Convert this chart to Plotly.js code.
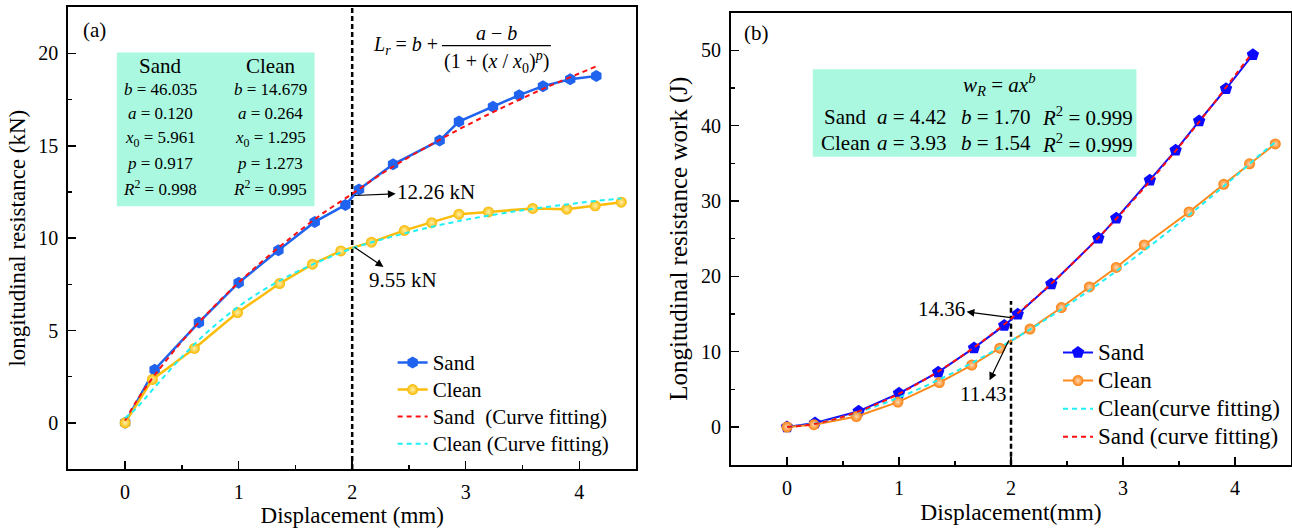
<!DOCTYPE html>
<html>
<head>
<meta charset="utf-8">
<script src="https://cdn.plot.ly/plotly-3.0.1.min.js"></script>
<style>html,body{margin:0;padding:0;background:#fff;}#chart{width:1292px;height:528px;}</style>
</head>
<body>
<div id="chart"></div>
<script>
// ---------- Panel (a): longitudinal resistance ----------
const xSandA = [0, 0.26, 0.65, 1.0, 1.35, 1.67, 1.94, 2.06, 2.36, 2.77, 2.94, 3.24, 3.47, 3.68, 3.92, 4.15];
const ySandA = [0, 2.88, 5.44, 7.59, 9.34, 10.88, 11.80, 12.64, 14.0, 15.29, 16.31, 17.12, 17.74, 18.23, 18.6, 18.78];
const xCleanA = [0, 0.24, 0.61, 0.99, 1.36, 1.65, 1.9, 2.17, 2.46, 2.70, 2.94, 3.2, 3.59, 3.89, 4.14, 4.37];
const yCleanA = [0, 2.35, 4.03, 5.97, 7.54, 8.59, 9.31, 9.78, 10.42, 10.84, 11.3, 11.42, 11.61, 11.57, 11.75, 11.95];
const xSandFitA = [0, 0.1, 0.25, 0.5, 0.75, 1, 1.25, 1.5, 1.75, 2, 2.25, 2.5, 2.75, 3, 3.25, 3.5, 3.75, 4, 4.15];
const ySandFitA = [0.12, 1.18, 2.50, 4.41, 6.09, 7.60, 8.97, 10.22, 11.38, 12.40, 13.45, 14.39, 15.26, 16.08, 16.85, 17.58, 18.27, 18.92, 19.30];
const xCleanFitA = [0, 0.1, 0.25, 0.5, 0.75, 1, 1.25, 1.5, 1.75, 2, 2.25, 2.5, 2.75, 3, 3.25, 3.5, 3.75, 4, 4.25, 4.37];
const yCleanFitA = [0.26, 0.80, 1.85, 3.57, 5.06, 6.30, 7.31, 8.14, 8.84, 9.45, 9.91, 10.32, 10.68, 11.00, 11.27, 11.51, 11.72, 11.91, 12.08, 12.15];

// ---------- Panel (b): longitudinal resistance work ----------
const xSandB = [0, 0.25, 0.64, 1.0, 1.35, 1.67, 1.94, 2.06, 2.36, 2.78, 2.94, 3.24, 3.47, 3.68, 3.92, 4.16];
const ySandB = [0, 0.54, 2.1, 4.47, 7.28, 10.5, 13.49, 14.97, 18.99, 25.07, 27.7, 32.75, 36.73, 40.62, 44.9, 49.42];
const xCleanB = [0, 0.24, 0.62, 0.99, 1.36, 1.65, 1.9, 2.17, 2.45, 2.70, 2.94, 3.19, 3.59, 3.9, 4.13, 4.36];
const yCleanB = [0, 0.31, 1.39, 3.31, 5.9, 8.22, 10.46, 13.0, 15.86, 18.59, 21.18, 24.17, 28.55, 32.22, 34.94, 37.58];
const xSandFitB = [0, 0.25, 0.5, 0.75, 1, 1.25, 1.5, 1.75, 2, 2.25, 2.5, 2.75, 3, 3.25, 3.5, 3.75, 4, 4.15];
const ySandFitB = [0, 0.42, 1.36, 2.71, 4.42, 6.46, 8.81, 11.44, 14.36, 17.54, 20.99, 24.68, 28.61, 32.78, 37.19, 41.81, 46.66, 49.6];
const xCleanFitB = [0, 0.25, 0.5, 0.75, 1, 1.25, 1.5, 1.75, 2, 2.25, 2.5, 2.75, 3, 3.25, 3.5, 3.75, 4, 4.25, 4.36];
const yCleanFitB = [0, 0.46, 1.35, 2.52, 3.93, 5.54, 7.34, 9.30, 11.43, 13.70, 16.12, 18.66, 21.34, 24.14, 27.05, 30.09, 33.23, 36.48, 37.8];

// ---------- labels ----------
const legendNamesA = ['Sand', 'Clean', 'Sand  (Curve fitting)', 'Clean (Curve fitting)'];
const legendNamesB = ['Sand', 'Clean', 'Clean(curve fitting)', 'Sand (curve fitting)'];
const paramHeadA = ['Sand', 'Clean'];
const paramSandA = ['<i>b</i> = 46.035', '<i>a</i> = 0.120', '<i>x</i><sub>0</sub> = 5.961', '<i>p</i> = 0.917', '<i>R</i><sup>2</sup> = 0.998'];
const paramCleanA = ['<i>b</i> = 14.679', '<i>a</i> = 0.264', '<i>x</i><sub>0</sub> = 1.295', '<i>p</i> = 1.273', '<i>R</i><sup>2</sup> = 0.995'];
const paramRowsB = [
  ['Sand', '<i>a</i> = 4.42', '<i>b</i> = 1.70', '<i>R</i><sup>2</sup> = 0.999'],
  ['Clean', '<i>a</i> = 3.93', '<i>b</i> = 1.54', '<i>R</i><sup>2</sup> = 0.999']
];
const markedX = 2;
const markedA = ['12.26 kN', '9.55 kN'];
const markedB = ['14.36', '11.43'];

const FONT = 'Liberation Serif, Times New Roman, serif';
function big(name, px) { return '<span style="font-size:' + px + 'px">' + name + '</span>'; }

const traces = [
  {x: xSandA, y: ySandA, name: big(legendNamesA[0], 21), mode: 'lines+markers', xaxis: 'x', yaxis: 'y', legend: 'legend',
   line: {color: '#1f63ee', width: 2.5}, marker: {symbol: 'hexagon', size: 12, color: '#1f63ee'}},
  {x: xCleanA, y: yCleanA, name: big(legendNamesA[1], 21), mode: 'lines+markers', xaxis: 'x', yaxis: 'y', legend: 'legend',
   line: {color: '#fdbd0a', width: 2.5}, marker: {symbol: 'circle', size: 11, color: '#f8b800', gradient: {type: 'radial', color: '#fff1a8'}}},
  {x: xSandFitA, y: ySandFitA, name: big(legendNamesA[2], 21), mode: 'lines', xaxis: 'x', yaxis: 'y', legend: 'legend',
   line: {color: '#ff1010', width: 2, dash: '5px,4px', shape: 'spline'}},
  {x: xCleanFitA, y: yCleanFitA, name: big(legendNamesA[3], 21), mode: 'lines', xaxis: 'x', yaxis: 'y', legend: 'legend',
   line: {color: '#1ff0f5', width: 2, dash: '5px,4px', shape: 'spline'}},

  {x: xSandB, y: ySandB, name: big(legendNamesB[0], 23), mode: 'lines+markers', xaxis: 'x2', yaxis: 'y2', legend: 'legend2',
   line: {color: '#1010ff', width: 2}, marker: {symbol: 'pentagon', size: 13, color: '#0a0aff'}},
  {x: xCleanB, y: yCleanB, name: big(legendNamesB[1], 23), mode: 'lines+markers', xaxis: 'x2', yaxis: 'y2', legend: 'legend2',
   line: {color: '#ff8a1c', width: 2}, marker: {symbol: 'circle', size: 11, color: '#fb7e0c', gradient: {type: 'radial', color: '#ffd8b0'}}},
  {x: xCleanFitB, y: yCleanFitB, name: big(legendNamesB[2], 23), mode: 'lines', xaxis: 'x2', yaxis: 'y2', legend: 'legend2',
   line: {color: '#1ff0f5', width: 2, dash: '5px,4px', shape: 'spline'}},
  {x: xSandFitB, y: ySandFitB, name: big(legendNamesB[3], 23), mode: 'lines', xaxis: 'x2', yaxis: 'y2', legend: 'legend2',
   line: {color: '#ff1010', width: 2, dash: '5px,4px', shape: 'spline'}}
];

function axisBase(extra) {
  return Object.assign({
    showline: true, linewidth: 2, linecolor: 'black', mirror: true,
    showgrid: false, zeroline: false,
    ticks: 'inside', ticklen: 8, tickwidth: 1.5, tickcolor: 'black',
    ticklabelstandoff: 4,
    tickfont: {family: FONT, size: 20, color: 'black'},
    automargin: false
  }, extra);
}

const ann = [];
function txt(xr, yr, x, y, text, size, extra) {
  ann.push(Object.assign({xref: xr, yref: yr, x: x, y: y, text: text, showarrow: false,
    font: {family: FONT, size: size, color: 'black'}}, extra || {}));
}
// panel labels
txt('x', 'y', -0.27, 21.25, '(a)', 21);
txt('x2', 'y2', -0.27, 52.3, '(b)', 21);
// (a) param box
const rowYA = [18.03, 16.74, 15.39, 14.04, 12.69];
txt('x', 'y', 0.31, 19.34, paramHeadA[0], 21);
txt('x', 'y', 1.28, 19.34, paramHeadA[1], 21);
paramSandA.forEach((t, i) => txt('x', 'y', 0.31, rowYA[i], t, 17));
paramCleanA.forEach((t, i) => txt('x', 'y', 1.28, rowYA[i], t, 17));
// (a) formula
txt('x', 'y', 2.77, 20.45, '<i>L</i><sub><i>r</i></sub> = <i>b</i> +', 20, {xanchor: 'right'});
txt('x', 'y', 3.27, 21.12, '<i>a</i> − <i>b</i>', 20);
txt('x', 'y', 3.27, 19.55, '(1 + (<i>x</i> / <i>x</i><sub>0</sub>)<sup><i>p</i></sup>)', 20);
// (b) box
txt('x2', 'y2', 1.90, 45.4, '<i>w</i><sub><i>R</i></sub> = <i>ax</i><sup><i>b</i></sup>', 21);
const colXB = [0.52, 1.12, 1.87, 2.68];
const rowYB = [41.2, 37.65];
paramRowsB.forEach((row, r) => row.forEach((t, c) => txt('x2', 'y2', colXB[c], rowYB[r], t, 21)));

// arrows with values
function arrow(xr, yr, px, py, tx, ty, text, size) {
  ann.push({xref: xr, yref: yr, axref: xr, ayref: yr, x: px, y: py, ax: tx, ay: ty, text: text,
    showarrow: true, arrowside: 'start', arrowhead: 2, startarrowhead: 2, arrowsize: 1.3, startarrowsize: 1.3,
    arrowwidth: 1.2, arrowcolor: 'black', standoff: 0, startstandoff: 0,
    font: {family: FONT, size: size, color: 'black'}});
}
arrow('x', 'y', 2.02, 12.31, 2.74, 12.49, markedA[0], 21);
arrow('x', 'y', 2.02, 9.51, 2.45, 7.71, markedA[1], 21);
arrow('x2', 'y2', 2.0, 14.52, 1.38, 15.73, markedB[0], 21);
arrow('x2', 'y2', 1.98, 11.48, 1.75, 4.42, markedB[1], 21);

const shapes = [
  {type: 'rect', xref: 'x', yref: 'y', x0: -0.073, x1: 1.668, y0: 11.73, y1: 20.05, fillcolor: '#aaf8df', line: {width: 0}, layer: 'below'},
  {type: 'rect', xref: 'x2', yref: 'y2', x0: 0.23, x1: 3.12, y0: 35.87, y1: 47.48, fillcolor: '#aaf8df', line: {width: 0}, layer: 'below'},
  {type: 'line', xref: 'x', yref: 'y domain', x0: markedX, x1: markedX, y0: 0, y1: 1, line: {color: 'black', width: 2.5, dash: '5px,3px'}, layer: 'below'},
  {type: 'line', xref: 'x2', yref: 'y2', x0: markedX, x1: markedX, y0: -5, y1: 16.74, line: {color: 'black', width: 2.5, dash: '5px,3px'}, layer: 'below'},
  {type: 'line', xref: 'x', yref: 'y', x0: 2.79, x1: 3.75, y0: 20.42, y1: 20.42, line: {color: 'black', width: 1.2}}
];

const layout = {
  width: 1292, height: 528,
  margin: {l: 0, r: 0, t: 0, b: 0},
  paper_bgcolor: 'white', plot_bgcolor: 'white',
  font: {family: FONT, size: 19, color: 'black'},
  xaxis: axisBase({domain: [0.0529, 0.4923], range: [-0.5, 4.5], tick0: 0, dtick: 1, anchor: 'y',
    minor: {tick0: 0, dtick: 0.5, ticks: 'inside', ticklen: 4, tickwidth: 1.5, tickcolor: 'black'},
    title: {text: 'Displacement (mm)', font: {family: FONT, size: 23}, standoff: 1}}),
  yaxis: axisBase({domain: [0.1117, 0.9862], range: [-2.5, 22.5], tick0: 0, dtick: 5, anchor: 'x',
    minor: {tick0: 0, dtick: 2.5, ticks: 'inside', ticklen: 4, tickwidth: 1.5, tickcolor: 'black'},
    title: {text: 'longitudinal resistance (kN)', font: {family: FONT, size: 23}, standoff: 6}}),
  xaxis2: axisBase({domain: [0.5658, 0.9992], range: [-0.5, 4.5], tick0: 0, dtick: 1, anchor: 'y2',
    minor: {tick0: 0, dtick: 0.5, ticks: 'inside', ticklen: 4, tickwidth: 1.5, tickcolor: 'black'},
    title: {text: 'Displacement(mm)', font: {family: FONT, size: 23.5}, standoff: 1}}),
  yaxis2: axisBase({domain: [0.1199, 0.976], range: [-5, 55], tick0: 0, dtick: 10, anchor: 'x2',
    minor: {tick0: 0, dtick: 5, ticks: 'inside', ticklen: 4, tickwidth: 1.5, tickcolor: 'black'},
    title: {text: 'Longitudinal resistance work (J)', font: {family: FONT, size: 25}, standoff: 6}}),
  legend: {x: 0.3039, y: 0.3485, xanchor: 'left', yanchor: 'top', bgcolor: 'rgba(0,0,0,0)',
    font: {family: FONT, size: 18.5}, tracegroupgap: 0, itemwidth: 30},
  legend2: {x: 0.8189, y: 0.3684, xanchor: 'left', yanchor: 'top', bgcolor: 'rgba(0,0,0,0)',
    font: {family: FONT, size: 19.3}, tracegroupgap: 0, itemwidth: 30},
  showlegend: true,
  annotations: ann,
  shapes: shapes
};

Plotly.newPlot('chart', traces, layout, {displayModeBar: false, staticPlot: true});
</script>
</body>
</html>
